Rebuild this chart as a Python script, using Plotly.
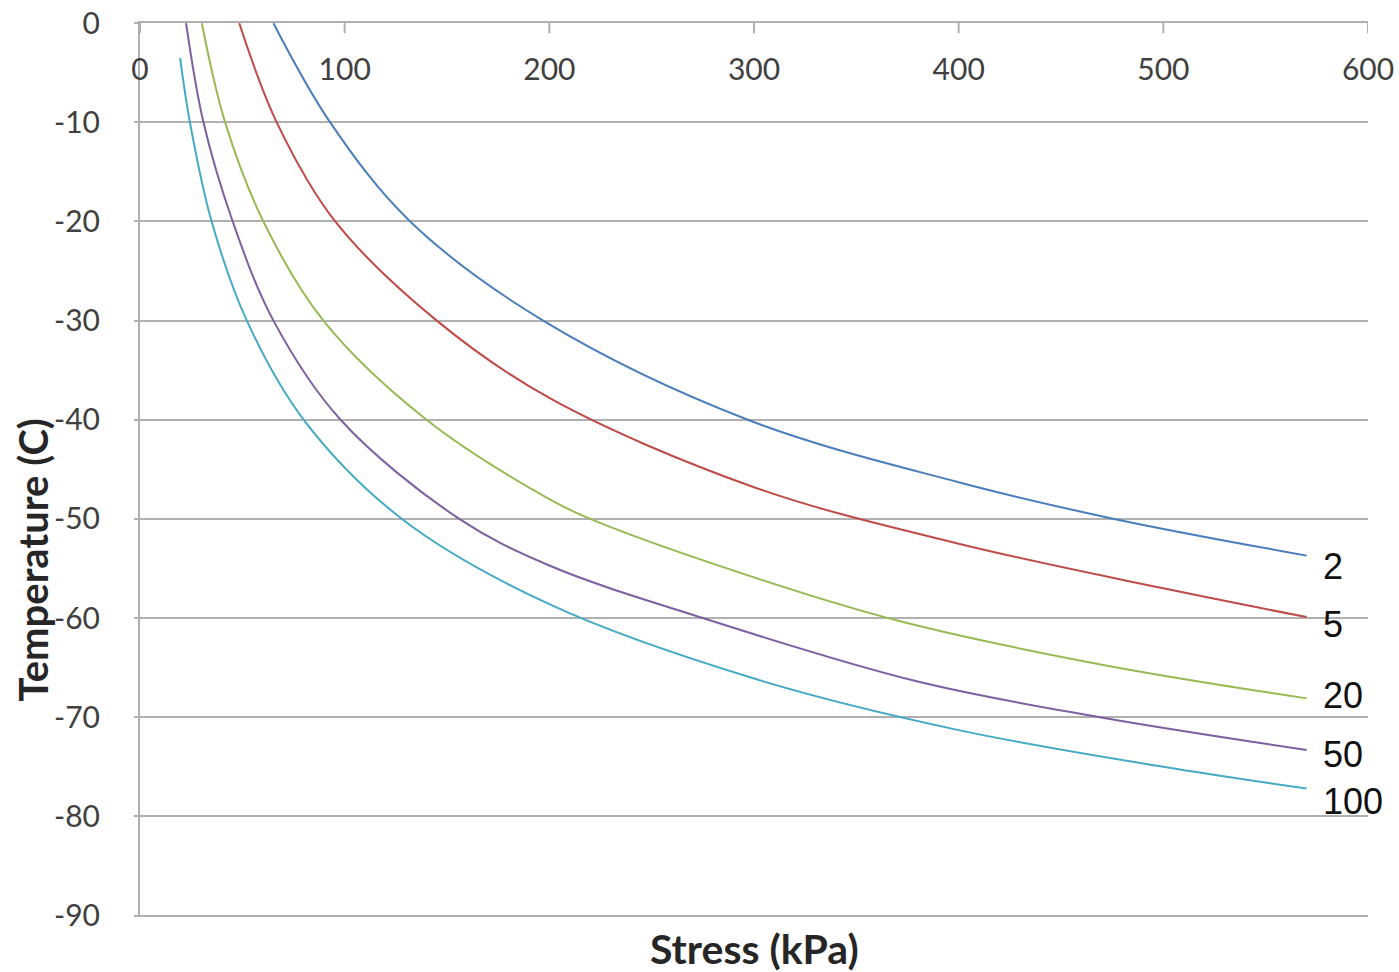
import plotly.graph_objects as go

# Stress (kPa) and temperature (C), one curve per label
labels = ["2", "5", "20", "50", "100"]
stress_2 = [65.2, 92.9, 132, 197, 297, 400, 476, 570]
temp_2 = [0, -10, -20, -30, -40, -46.3, -50, -53.7]
stress_5 = [48.5, 66.8, 95.4, 145, 200, 300, 400, 500, 570]
temp_5 = [0, -10, -20, -30, -37.8, -46.8, -52.5, -57.0, -59.9]
stress_20 = [30.2, 41.6, 60.3, 89.6, 140, 200, 220, 300, 371, 470, 570]
temp_20 = [0, -10, -20, -30, -40, -48.0, -50, -55.9, -60.3, -64.7, -68.1]
stress_50 = [22.5, 31, 45.3, 65.2, 98, 156, 200, 275, 380, 469, 570]
temp_50 = [0, -10, -20, -30, -40, -50, -54.7, -60, -66.4, -70, -73.3]
stress_100 = [19.6, 24.4, 35, 52.2, 80, 128, 200, 300, 400, 500, 570]
temp_100 = [-3.5, -10, -20, -30, -40, -50, -58.6, -66.1, -71.3, -75.0, -77.2]

x_ticks = [0, 100, 200, 300, 400, 500, 600]
y_ticks = [0, -10, -20, -30, -40, -50, -60, -70, -80, -90]

series = [
    (stress_2, temp_2),
    (stress_5, temp_5),
    (stress_20, temp_20),
    (stress_50, temp_50),
    (stress_100, temp_100),
]
colors = ["#4A7EBB", "#BE4B48", "#98B954", "#7D60A0", "#46AAC5"]
label_yshift = [-11, -7, 3, -5, -13]

grid = "#b0b0b0"
tick_font = dict(family="Lato", size=30, color="#404040")

fig = go.Figure()
for (xs, ys), c, name in zip(series, colors, labels):
    fig.add_trace(go.Scatter(
        x=xs, y=ys, mode="lines", name=name,
        line=dict(color=c, width=2, shape="spline", smoothing=1.0),
        showlegend=False, hoverinfo="skip",
    ))

annotations = []
for (xs, ys), name, dy in zip(series, labels, label_yshift):
    annotations.append(dict(
        x=xs[-1], y=ys[-1], xref="x", yref="y", text=name, showarrow=False,
        xanchor="left", yanchor="middle", xshift=14, yshift=dy,
        font=dict(family="Liberation Sans", size=36, color="#111111"),
    ))

annotations.append(dict(
    x=-0.087, y=0.399, xref="paper", yref="paper", text="<b>Temperature (C)</b>",
    showarrow=False, textangle=-90, xanchor="center", yanchor="middle",
    font=dict(family="Lato", size=40, color="#262626"),
))
annotations.append(dict(
    x=0.5, y=-0.0347, xref="paper", yref="paper", text="<b>Stress (kPa)</b>",
    showarrow=False, xanchor="center", yanchor="middle",
    font=dict(family="Lato", size=41, color="#262626"),
))

shapes = []
for t in x_ticks:
    shapes.append(dict(
        type="line", xref="x", yref="y", x0=t, x1=t,
        ysizemode="pixel", yanchor=0, y0=-10, y1=10,
        line=dict(color=grid, width=2),
    ))

fig.update_layout(
    width=1399, height=972,
    margin=dict(l=140, r=31, t=23, b=55),
    paper_bgcolor="white", plot_bgcolor="white",
    annotations=annotations, shapes=shapes,
    xaxis=dict(
        range=[0, 600], tickvals=x_ticks, ticktext=[str(v) for v in x_ticks],
        side="top", automargin=False,
        ticks="", ticklabelposition="inside", ticklabeloverflow="allow",
        ticklabelstandoff=39,
        showgrid=False, zeroline=False, showline=True, linecolor=grid, linewidth=2,
        tickfont=tick_font,
    ),
    yaxis=dict(
        range=[-90.15, 0.02], tickvals=y_ticks,
        ticktext=[str(v).replace("\u2212", "-") for v in y_ticks],
        automargin=False, ticklabeloverflow="allow",
        ticks="outside", ticklen=4, tickcolor=grid, tickwidth=2,
        ticklabelstandoff=28,
        showgrid=True, gridcolor=grid, gridwidth=2,
        zeroline=False, showline=True, linecolor=grid, linewidth=2,
        tickfont=tick_font,
    ),
)

fig.write_html(
    "out.html",
    config={"displayModeBar": False},
    post_script="document.body.style.margin='0';",
)
